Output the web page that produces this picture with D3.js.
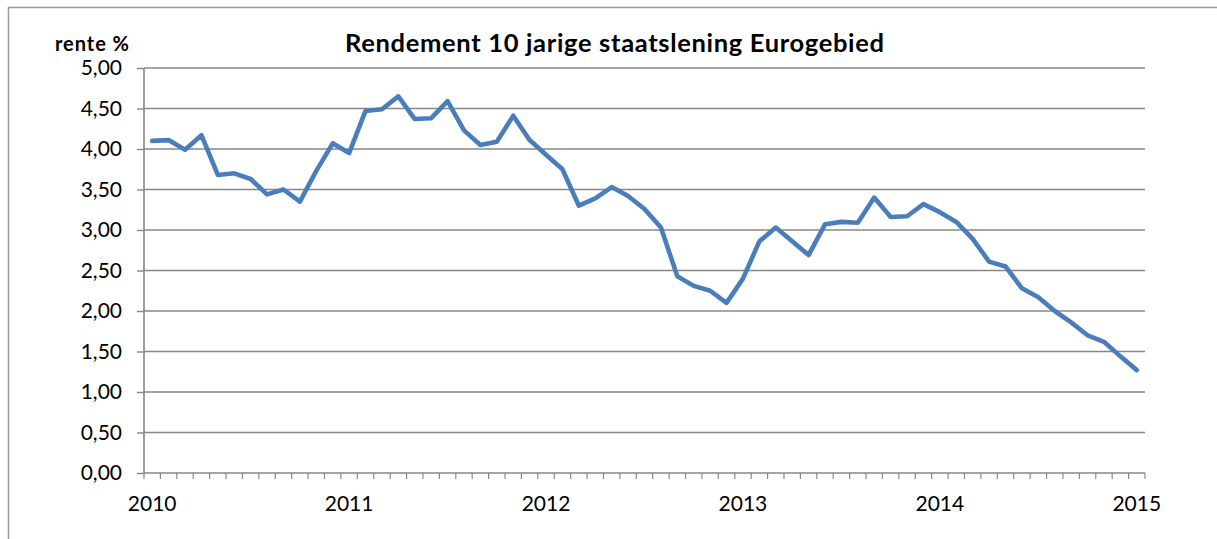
<!DOCTYPE html>
<html>
<head>
<meta charset="utf-8">
<script src="https://cdn.jsdelivr.net/npm/d3@7"></script>
<style>
  html, body { margin: 0; padding: 0; background: #fff; }
  svg { display: block; }
</style>
</head>
<body>
<svg id="chart" width="1217" height="539"></svg>
<script>
// monthly categories jan 2010 .. jan 2015
var months = [];
for (var yr = 2010; yr <= 2015; yr++) {
  for (var m = 1; m <= 12; m++) {
    if (yr === 2015 && m > 1) break;
    months.push(yr + "-" + (m < 10 ? "0" + m : m));
  }
}

// rendement in %
var rente = [
  4.10, 4.11, 3.99, 4.17, 3.68, 3.70, 3.63, 3.44, 3.50, 3.35, 3.73, 4.07,
  3.95, 4.47, 4.49, 4.65, 4.37, 4.38, 4.59, 4.23, 4.05, 4.09, 4.41, 4.11,
  3.93, 3.75, 3.30, 3.39, 3.53, 3.42, 3.26, 3.03, 2.43, 2.31, 2.25, 2.10,
  2.40, 2.86, 3.03, 2.86, 2.69, 3.07, 3.10, 3.09, 3.40, 3.16, 3.17, 3.32,
  3.22, 3.10, 2.89, 2.61, 2.55, 2.28, 2.17, 2.00, 1.86, 1.70, 1.62, 1.44,
  1.27
];

var yTicks = [0, 0.5, 1, 1.5, 2, 2.5, 3, 3.5, 4, 4.5, 5];

var title = "Rendement 10 jarige staatslening Eurogebied";
var yTitle = "rente %";

function draw() {
  var font = "Lato, 'Open Sans', sans-serif";
  var gridColor = "#878787";

  var svg = d3.select("#chart");

  // outer frame (runs off the picture on the right and bottom)
  svg.append("path")
    .attr("d", "M8.5,545 V7.5 H1225")
    .attr("fill", "none")
    .attr("stroke", "#9a9a9a")
    .attr("stroke-width", 1.5);

  var plotLeft = 144, plotRight = 1145, plotTop = 68, plotBottom = 473;

  var x = d3.scaleBand()
    .domain(months)
    .range([plotLeft, plotRight])
    .padding(0);

  var y = d3.scaleLinear()
    .domain([0, 5])
    .range([plotBottom, plotTop]);

  // gridlines
  svg.append("g")
    .selectAll("line")
    .data(yTicks.filter(d => d > 0))
    .join("line")
    .attr("x1", plotLeft)
    .attr("x2", plotRight)
    .attr("y1", d => y(d))
    .attr("y2", d => y(d))
    .attr("stroke", gridColor)
    .attr("stroke-width", 1.4);

  // y axis
  var yAxis = d3.axisLeft(y)
    .tickValues(yTicks)
    .tickSize(7)
    .tickPadding(15)
    .tickFormat(d => d3.format(".2f")(d).replace(".", ","));

  svg.append("g")
    .attr("transform", `translate(${plotLeft},0)`)
    .call(yAxis)
    .call(g => g.select(".domain").remove())
    .call(g => g.selectAll(".tick line").attr("stroke", gridColor).attr("stroke-width", 1.4))
    .call(g => g.selectAll("text")
      .attr("font-family", font)
      .attr("font-size", 21)
      .attr("fill", "#000"));

  svg.append("line")
    .attr("x1", plotLeft).attr("x2", plotLeft)
    .attr("y1", plotTop).attr("y2", plotBottom)
    .attr("stroke", gridColor)
    .attr("stroke-width", 1.6);

  // x axis: ticks between categories
  var edges = months.map(d => x(d)).concat([x.range()[1]]);

  svg.append("line")
    .attr("x1", plotLeft).attr("x2", plotRight)
    .attr("y1", plotBottom).attr("y2", plotBottom)
    .attr("stroke", gridColor)
    .attr("stroke-width", 1.6);

  svg.append("g")
    .selectAll("line")
    .data(edges)
    .join("line")
    .attr("x1", d => d).attr("x2", d => d)
    .attr("y1", plotBottom).attr("y2", plotBottom + 6)
    .attr("stroke", gridColor)
    .attr("stroke-width", 1.2);

  svg.append("g")
    .selectAll("text")
    .data(months.filter(d => d.endsWith("-01")))
    .join("text")
    .attr("x", d => x(d) + x.bandwidth() / 2)
    .attr("y", 511)
    .attr("text-anchor", "middle")
    .attr("font-family", font)
    .attr("font-size", 21)
    .text(d => d.slice(0, 4));

  // the line
  var line = d3.line()
    .x((d, i) => x(months[i]) + x.bandwidth() / 2)
    .y(d => y(d));

  svg.append("path")
    .datum(rente)
    .attr("d", line)
    .attr("fill", "none")
    .attr("stroke", "#4a7ebb")
    .attr("stroke-width", 4.6)
    .attr("stroke-linejoin", "round")
    .attr("stroke-linecap", "round");

  // titles
  svg.append("text")
    .attr("x", 614.5)
    .attr("y", 52)
    .attr("text-anchor", "middle")
    .attr("font-family", font)
    .attr("font-weight", "bold")
    .attr("font-size", 25.5)
    .attr("textLength", 539)
    .attr("lengthAdjust", "spacing")
    .text(title);

  svg.append("text")
    .attr("x", 129)
    .attr("y", 51)
    .attr("text-anchor", "end")
    .attr("font-family", font)
    .attr("font-weight", "bold")
    .attr("font-size", 20)
    .attr("textLength", 74)
    .attr("lengthAdjust", "spacing")
    .text(yTitle);
}

draw();
</script>
</body>
</html>
